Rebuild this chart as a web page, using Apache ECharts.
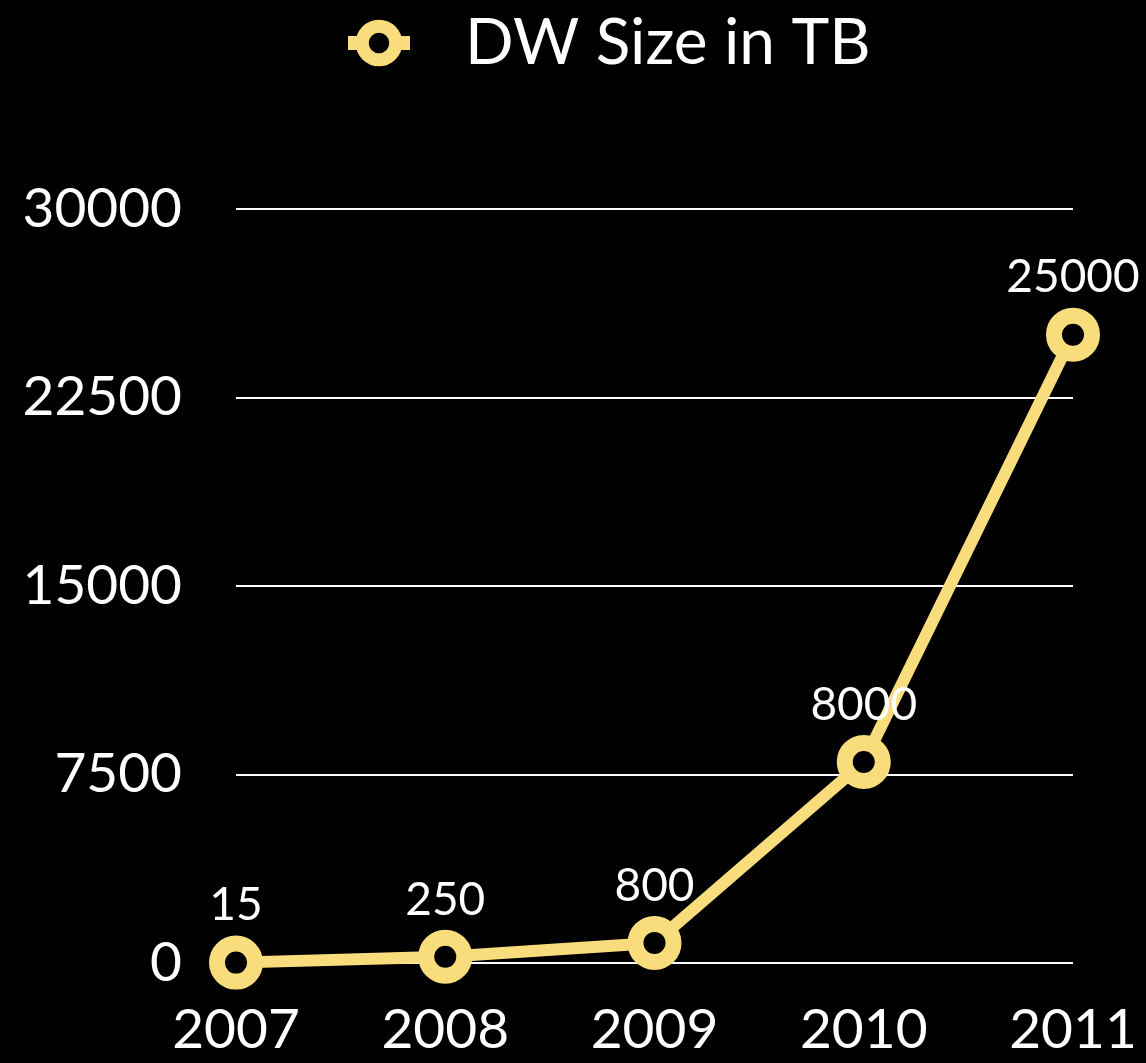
<!DOCTYPE html>
<html>
<head>
<meta charset="utf-8">
<script src="https://cdn.jsdelivr.net/npm/echarts@6/dist/echarts.min.js"></script>
<style>
  html, body { margin: 0; padding: 0; background: #000; }
  #chart { width: 1146px; height: 1063px; }
</style>
</head>
<body>
<div id="chart"></div>
<script>
// Data warehouse size per year, in terabytes
const years = ['2007', '2008', '2009', '2010', '2011'];
const dwSizeTB = [15, 250, 800, 8000, 25000];
const seriesName = 'DW Size in TB';

const yellow = '#f9dc7c';
const fontFamily = 'Lato, "Open Sans", sans-serif';

const chart = echarts.init(document.getElementById('chart'));
chart.setOption({
  backgroundColor: '#000',
  textStyle: { fontFamily: fontFamily, color: '#fff' },
  legend: {
    top: 6,
    left: 336,
    itemWidth: 62,
    itemHeight: 42,
    itemStyle: { color: '#000', borderColor: yellow, borderWidth: 13 },
    lineStyle: { color: yellow, width: 14 },
    textStyle: {
      color: '#fff',
      fontSize: 64,
      fontFamily: fontFamily,
      padding: [0, 0, 0, 50]
    },
    data: [seriesName]
  },
  grid: { left: 236, right: 73, top: 209, bottom: 100, containLabel: false },
  xAxis: {
    type: 'category',
    data: years,
    boundaryGap: false,
    axisLine: { show: false },
    axisTick: { show: false },
    axisLabel: { color: '#fff', fontSize: 55, margin: 40, fontFamily: fontFamily }
  },
  yAxis: {
    type: 'value',
    min: 0,
    max: 30000,
    interval: 7500,
    axisLine: { show: false },
    axisTick: { show: false },
    axisLabel: {
      color: '#fff',
      fontSize: 55,
      margin: 54,
      fontFamily: fontFamily,
      formatter: (v) => String(v)
    },
    splitLine: { lineStyle: { color: '#fff', width: 2 } }
  },
  series: [{
    name: seriesName,
    type: 'line',
    data: dwSizeTB,
    symbol: 'circle',
    symbolSize: 38,
    lineStyle: { color: yellow, width: 12 },
    itemStyle: { color: '#000', borderColor: yellow, borderWidth: 16 },
    label: {
      show: true,
      position: 'top',
      distance: 7,
      color: '#fff',
      fontSize: 46,
      fontFamily: fontFamily
    },
    z: 3
  }]
});
</script>
</body>
</html>
